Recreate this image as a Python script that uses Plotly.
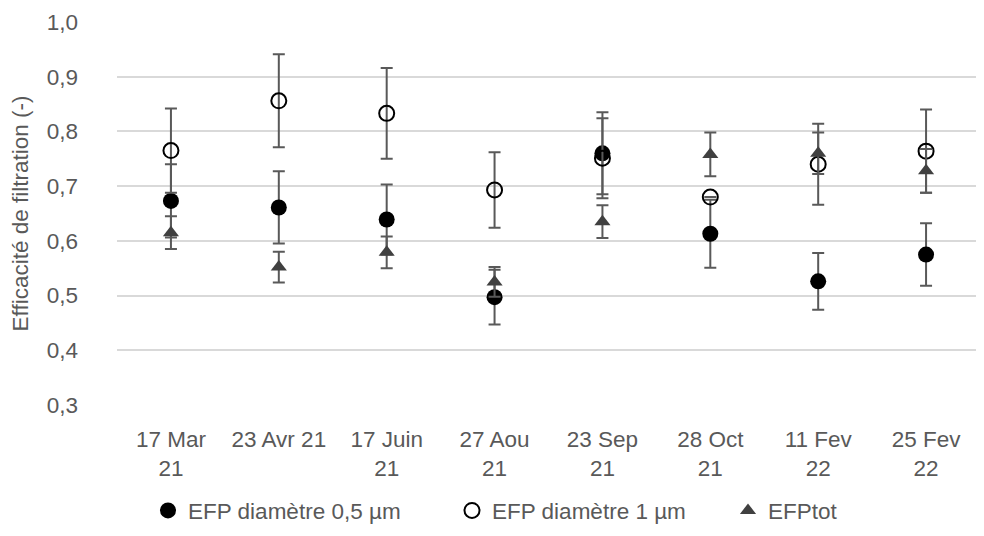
import plotly.graph_objects as go

dates = ["17 Mar<br>21", "23 Avr 21", "17 Juin<br>21", "27 Aou<br>21",
         "23 Sep<br>21", "28 Oct<br>21", "11 Fev<br>22", "25 Fev<br>22"]
efp05 = [0.673, 0.661, 0.639, 0.497, 0.760, 0.613, 0.526, 0.575]
err05 = [0.067, 0.066, 0.064, 0.050, 0.075, 0.062, 0.052, 0.057]
efp1 = [0.765, 0.856, 0.833, 0.693, 0.751, 0.680, 0.740, 0.764]
err1 = [0.077, 0.085, 0.083, 0.069, 0.073, 0.0, 0.074, 0.076]
efptot = [0.615, 0.552, 0.579, 0.525, 0.635, 0.758, 0.760, 0.728]
errtot = [0.030, 0.028, 0.029, 0.027, 0.030, 0.040, 0.038, 0.040]
yticks = [0.3, 0.4, 0.5, 0.6, 0.7, 0.8, 0.9, 1.0]

FONT = "Liberation Sans, Arial, sans-serif"
TXT = "#595959"
ERRC = "#595959"
FS = 22.5

# page body has an 8px margin: the visible area is 976 x 528 of the figure
W, H = 976, 528
PL, PR, PT, PB = 117, 980, 22, 407   # plot area on screen
LEG_BOTTOM = 535

def err(vals):
    return dict(type="data", array=vals, visible=True, color=ERRC, thickness=2, width=6)

fig = go.Figure()
fig.add_trace(go.Scatter(
    x=dates, y=efp05, mode="markers", name="EFP diamètre 0,5 µm", legend="legend",
    marker=dict(symbol="circle", size=16, color="black", line=dict(width=0)),
    error_y=err(err05)))
fig.add_trace(go.Scatter(
    x=dates, y=efp1, mode="markers", name="EFP diamètre 1 µm", legend="legend2",
    marker=dict(symbol="circle-open", size=15, color="black", line=dict(width=2)),
    error_y=err(err1)))
fig.add_trace(go.Scatter(
    x=dates, y=efptot, mode="markers", name="EFPtot", legend="legend3",
    marker=dict(symbol="triangle-up", size=14, color="#404040", line=dict(width=0)),
    error_y=err(errtot)))

def leg(xabs):
    return dict(x=(xabs - PL) / (PR - PL), xanchor="left",
                y=(PB - LEG_BOTTOM) / (PB - PT), yanchor="bottom",
                font=dict(family=FONT, size=FS, color=TXT),
                itemwidth=30, bgcolor="rgba(0,0,0,0)")

fig.update_layout(
    width=W, height=H,
    margin=dict(l=PL - 8, r=W - (PR - 8), t=PT - 8, b=H - (PB - 8)),
    paper_bgcolor="white", plot_bgcolor="white",
    separators=", ",
    font=dict(family=FONT, size=FS, color=TXT),
    showlegend=True,
    legend=leg(168 - 20),
    legend2=leg(472 - 20),
    legend3=leg(748 - 20),
    xaxis=dict(type="category", range=[-0.5, 7.5], showgrid=False, zeroline=False,
               showline=False, ticks="", automargin=False,
               ticklabelstandoff=18,
               tickfont=dict(size=FS, color=TXT)),
    yaxis=dict(range=[0.3, 1.0], tickvals=yticks, tickformat=".1f",
               showgrid=True, gridcolor="#d9d9d9", gridwidth=1.5,
               zeroline=False, showline=False, ticks="", automargin=False,
               ticklabelstandoff=38,
               tickfont=dict(size=FS, color=TXT),
               title=dict(text="Efficacité de filtration (-)", standoff=12,
                          font=dict(size=FS, color=TXT))),
)

fig.write_html("out.html")
